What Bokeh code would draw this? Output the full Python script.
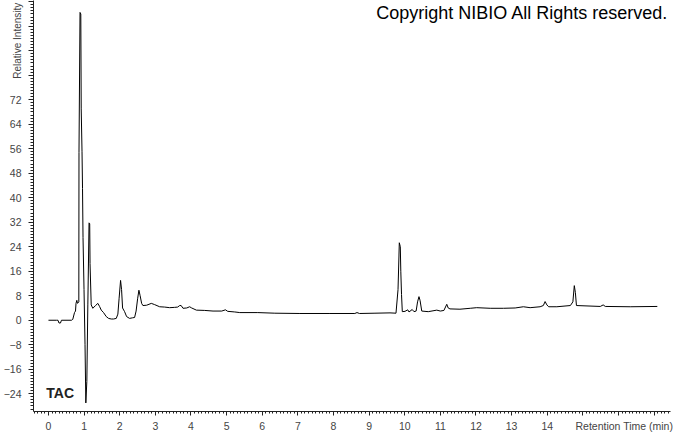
from bokeh.plotting import figure
from bokeh.models import FixedTicker, Label, Range1d
from bokeh.embed import file_html
from bokeh.resources import INLINE

# Retention time (min) and relative intensity
time_min = [0.0, 0.225, 0.267, 0.295, 0.337, 0.365, 0.647, 0.683, 0.731, 0.759, 0.773, 0.796,
            0.815, 0.852, 0.857, 0.886, 0.908, 0.919, 0.942, 0.956, 0.970, 0.998, 1.026, 1.049,
            1.077, 1.105, 1.139, 1.158, 1.167, 1.200, 1.245, 1.321, 1.386, 1.434, 1.482, 1.546,
            1.622, 1.687, 1.763, 1.827, 1.903, 1.948, 1.982, 2.024, 2.052, 2.080, 2.137, 2.193,
            2.277, 2.362, 2.418, 2.460, 2.502, 2.539, 2.573, 2.615, 2.651, 2.755, 2.887, 2.980,
            3.121, 3.261, 3.402, 3.542, 3.627, 3.683, 3.725, 3.776, 3.880, 3.964, 4.020, 4.152,
            4.386, 4.619, 4.864, 4.968, 5.032, 5.229, 5.370, 5.876, 6.354, 7.057, 7.90, 8.60,
            8.66, 8.73, 9.165, 9.587, 9.755, 9.812, 9.848, 9.876, 9.890, 9.910, 9.932, 10.008,
            10.084, 10.12, 10.21, 10.26, 10.32, 10.36, 10.40, 10.43, 10.478, 10.66, 10.90, 11.0,
            11.10, 11.18, 11.22, 11.27, 11.55, 11.84, 12.02, 12.40, 12.77, 13.10, 13.33, 13.52,
            13.80, 13.89, 13.94, 13.99, 14.04, 14.27, 14.65, 14.72, 14.76, 14.79, 14.82, 15.49,
            15.57, 15.63, 16.33, 17.09]
intensity = [0.0, 0.0, 0.0, -0.9, -0.9, 0.0, 0.0, 0.3, 2.5, 3.0, 5.5, 6.5,
             5.5, 6.0, 54.8, 100.5, 100.0, 69.0, 55.0, 43.0, 27.0, 10.0, -8.0, -27.0,
             -20.0, 5.0, 31.8, 31.5, 18.5, 5.0, 3.9, 4.8, 5.5, 4.5, 3.3, 2.5,
             1.2, 0.6, 0.4, 0.4, 0.6, 2.0, 7.0, 13.0, 10.0, 4.0, 2.8, 1.2,
             0.6, 0.8, 0.9, 3.0, 7.0, 9.8, 8.0, 5.5, 4.8, 4.9, 5.5, 5.1,
             4.4, 4.3, 4.1, 4.2, 4.3, 4.8, 4.8, 3.9, 4.0, 4.4, 4.0, 3.3,
             3.2, 3.0, 3.0, 3.4, 2.9, 2.7, 2.5, 2.5, 2.3, 2.2, 2.2, 2.2,
             2.5, 2.2, 2.3, 2.4, 2.3, 10.0, 25.3, 24.0, 16.0, 8.4, 2.8, 2.9,
             3.4, 2.7, 3.5, 2.8, 3.0, 6.0, 7.7, 6.5, 3.0, 2.8, 3.3, 3.0,
             3.2, 5.2, 4.0, 3.7, 3.6, 3.9, 4.1, 3.9, 3.9, 4.0, 4.4, 4.1,
             4.4, 4.8, 6.1, 5.0, 4.4, 4.4, 4.8, 6.0, 11.3, 9.0, 4.8, 4.5,
             5.0, 4.5, 4.4, 4.5]

x_major_ticks = list(range(0, 18))
y_major_ticks = list(range(-24, 105, 8))
y_hidden_labels = [80, 88, 96, 104]
x_title = "Retention Time (min)"
y_title = "Relative Intensity"

FONT = "Liberation Sans"
NBSP = "\u00a0"

p = figure(width=674, height=434, output_backend="svg", toolbar_location=None,
           x_range=Range1d(-0.42, 17.46), y_range=Range1d(-29.8, 104.4),
           min_border_left=33, min_border_right=4, min_border_top=0, min_border_bottom=0)
p.outline_line_color = None
p.xgrid.visible = False
p.ygrid.visible = False
p.background_fill_color = "white"
p.border_fill_color = "white"

p.line(time_min, intensity, line_color="black", line_width=1)

p.xaxis.ticker = FixedTicker(ticks=x_major_ticks,
                             minor_ticks=[round(i * 0.1, 1) for i in range(-4, 175)])
# the x title sits on the tick-label line, in place of the labels 15-17
p.xaxis.major_label_overrides = {15: "", 16: NBSP * 4 + x_title, 17: ""}
p.yaxis.ticker = FixedTicker(ticks=y_major_ticks, minor_ticks=list(range(-29, 105)))
p.yaxis.major_label_overrides = {t: "" for t in y_hidden_labels}

for ax in (p.xaxis[0], p.yaxis[0]):
    ax.axis_line_color = "#222222"
    ax.major_tick_line_color = "#222222"
    ax.minor_tick_line_color = "#222222"
    ax.major_tick_in = 0
    ax.minor_tick_in = 0
    ax.major_label_text_font = FONT
    ax.major_label_text_font_size = "10.5px"
    ax.major_label_text_color = "#444444"
    ax.axis_label_text_font = FONT
    ax.axis_label_text_font_size = "10px"
    ax.axis_label_text_font_style = "normal"
    ax.axis_label_text_color = "#444444"
p.xaxis.major_tick_out = 4
p.xaxis.minor_tick_out = 2
p.xaxis.major_label_standoff = 4
p.yaxis.major_tick_out = 5
p.yaxis.minor_tick_out = 3
p.yaxis.major_label_standoff = 7

# y title at the top end of the axis, beside the unlabelled upper ticks
p.yaxis.axis_label = y_title + NBSP * 29
p.yaxis.axis_label_align = "end"
p.yaxis.axis_label_standoff = -22

p.add_layout(Label(x=17.40, y=103.6, text="Copyright NIBIO All Rights reserved.",
                   text_font=FONT, text_font_size="18px", text_color="black",
                   text_align="right", text_baseline="top"))
p.add_layout(Label(x=-0.06, y=-23.7, text="TAC", text_font=FONT,
                   text_font_size="14px", text_font_style="bold", text_color="#222222",
                   text_align="left", text_baseline="middle"))

open("out.html", "w").write(file_html(p, INLINE))
